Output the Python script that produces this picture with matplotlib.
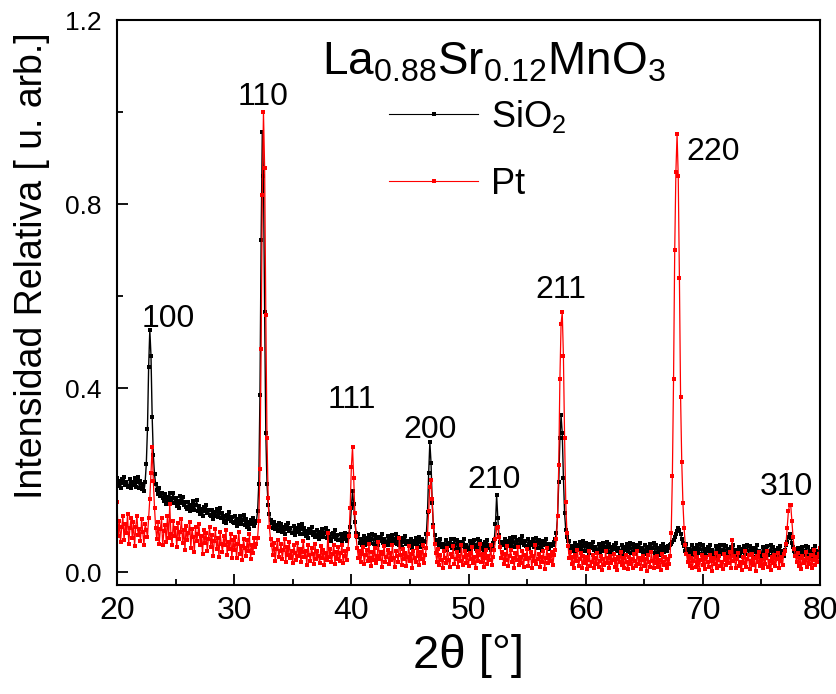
import numpy as np
import matplotlib.pyplot as plt
from matplotlib.ticker import MultipleLocator

plt.rcParams['font.family'] = ['Liberation Sans', 'DejaVu Sans']
plt.rcParams['mathtext.default'] = 'regular'

# 2theta scan, 0.1 deg step from 20 to 80
two_theta = np.round(np.arange(200, 801) * 0.1, 1)

# relative intensity x1000, one list per 10 deg
sio2_20 = [205, 187, 198, 183, 202, 193, 207, 189, 196, 185,
           188, 202, 182, 197, 190, 204, 186, 195, 206, 184,
           198, 180, 191, 176, 196, 235, 312, 447, 526, 470,
           338, 254, 213, 191, 179, 170, 184, 166, 173, 162,
           155, 169, 149, 164, 157, 171, 153, 162, 173, 151,
           162, 144, 155, 140, 166, 150, 164, 146, 153, 142,
           138, 152, 132, 147, 140, 154, 136, 145, 156, 134,
           144, 126, 137, 122, 141, 132, 146, 128, 135, 124,
           121, 135, 115, 130, 123, 137, 119, 128, 139, 117,
           128, 110, 121, 106, 125, 116, 130, 112, 119, 108]
sio2_30 = [107, 121, 101, 116, 109, 123, 105, 114, 125, 103,
           116, 98, 109, 94, 113, 104, 118, 100, 107, 112,
           132, 192, 385, 722, 957, 862, 565, 302, 192, 147,
           126, 114, 107, 96, 108, 94, 103, 90, 106, 92,
           105, 87, 98, 83, 102, 93, 107, 89, 96, 85,
           86, 100, 80, 95, 88, 102, 84, 93, 104, 82,
           97, 79, 90, 75, 94, 85, 99, 81, 88, 77,
           78, 92, 72, 87, 80, 94, 76, 85, 96, 74,
           89, 71, 82, 67, 86, 77, 91, 73, 80, 69,
           70, 84, 64, 79, 72, 86, 68, 77, 84, 98]
sio2_40 = [140, 176, 148, 108, 86, 76, 82, 64, 71, 60,
           65, 79, 59, 74, 67, 81, 63, 72, 83, 61,
           80, 62, 73, 58, 77, 68, 82, 64, 71, 60,
           65, 79, 59, 74, 67, 81, 63, 72, 83, 61,
           77, 59, 70, 55, 74, 65, 79, 61, 68, 57,
           59, 73, 53, 68, 61, 75, 57, 66, 77, 55,
           72, 56, 67, 66, 82, 130, 215, 282, 238, 150,
           102, 80, 69, 63, 67, 58, 72, 54, 61, 50,
           55, 69, 49, 64, 57, 71, 53, 62, 73, 51,
           69, 51, 62, 47, 66, 57, 71, 53, 60, 49]
sio2_50 = [53, 67, 47, 62, 55, 69, 51, 60, 71, 49,
           68, 50, 61, 46, 65, 56, 70, 52, 59, 48,
           56, 63, 70, 105, 167, 118, 80, 66, 60, 66,
           59, 73, 53, 68, 61, 75, 57, 66, 77, 55,
           76, 58, 69, 54, 73, 64, 78, 60, 67, 56,
           57, 71, 51, 66, 59, 73, 55, 64, 75, 53,
           70, 52, 63, 48, 67, 58, 72, 54, 61, 50,
           57, 62, 60, 66, 72, 86, 122, 195, 292, 341,
           302, 205, 128, 92, 76, 68, 68, 50, 57, 46,
           50, 64, 44, 59, 52, 66, 48, 57, 68, 46]
sio2_60 = [64, 46, 57, 42, 61, 52, 66, 48, 55, 44,
           48, 62, 42, 57, 50, 64, 46, 55, 66, 44,
           62, 44, 55, 40, 59, 50, 64, 46, 53, 42,
           46, 60, 40, 55, 48, 62, 44, 53, 64, 42,
           61, 43, 54, 39, 58, 49, 63, 45, 52, 41,
           45, 59, 39, 54, 47, 61, 43, 52, 63, 41,
           60, 42, 53, 38, 57, 48, 62, 44, 55, 46,
           56, 52, 58, 61, 66, 70, 77, 84, 90, 95,
           92, 83, 72, 63, 57, 47, 61, 43, 50, 39,
           44, 58, 38, 53, 46, 60, 42, 51, 62, 40]
sio2_70 = [58, 40, 51, 36, 55, 46, 60, 42, 49, 38,
           42, 56, 36, 51, 44, 58, 40, 49, 60, 38,
           57, 39, 50, 35, 54, 45, 59, 41, 48, 37,
           41, 55, 35, 50, 43, 57, 39, 48, 59, 37,
           56, 38, 49, 34, 53, 44, 58, 40, 47, 36,
           40, 54, 34, 49, 42, 56, 38, 47, 58, 36,
           55, 37, 48, 33, 52, 43, 57, 39, 46, 35,
           49, 58, 66, 76, 82, 74, 64, 55, 47, 44,
           39, 53, 33, 48, 41, 55, 37, 46, 57, 35,
           54, 36, 47, 32, 51, 42, 56, 38, 45, 34,
           43]

pt_20 = [152, 78, 112, 65, 98, 121, 70, 104, 86, 127,
         62, 95, 118, 74, 108, 57, 99, 123, 81, 93,
         68, 115, 88, 59, 104, 92, 77, 118, 160, 215,
         272, 198, 140, 96, 71, 108, 62, 94, 117, 58,
         89, 103, 66, 121, 74, 148, 82, 60, 112, 79,
         95, 54, 107, 71, 88, 116, 63, 92, 48, 101,
         69, 85, 110, 52, 94, 76, 43, 98, 67, 83,
         105, 58, 79, 40, 91, 64, 86, 47, 72, 99,
         55, 81, 36, 68, 93, 50, 74, 33, 87, 61,
         44, 79, 58, 92, 38, 66, 51, 84, 30, 70]
pt_30 = [48, 76, 31, 62, 88, 40, 57, 27, 73, 52,
         36, 69, 45, 82, 29, 60, 41, 74, 55, 62,
         75, 112, 225, 485, 820, 1000, 878, 560, 292, 162,
         98, 72, 58, 37, 64, 25, 51, 70, 33, 46,
         61, 28, 49, 73, 22, 55, 38, 66, 30, 47,
         19, 58, 41, 27, 63, 35, 50, 21, 44, 68,
         32, 47, 16, 59, 38, 25, 53, 40, 18, 62,
         29, 45, 36, 20, 57, 31, 48, 15, 42, 26,
         86, 33, 51, 22, 39, 60, 17, 44, 28, 54,
         24, 41, 58, 19, 36, 47, 26, 50, 78, 140]
pt_40 = [228, 272, 205, 128, 78, 52, 31, 46, 22, 40,
         55, 18, 37, 49, 24, 61, 30, 14, 43, 27,
         52, 20, 35, 65, 28, 44, 12, 39, 57, 23,
         33, 48, 17, 41, 26, 59, 30, 11, 45, 36,
         22, 74, 38, 15, 50, 29, 42, 13, 34, 56,
         25, 40, 10, 47, 31, 21, 53, 36, 16, 44,
         28, 58, 19, 37, 52, 82, 132, 186, 200, 158,
         98, 62, 41, 23, 50, 16, 38, 27, 9, 45,
         31, 19, 52, 26, 12, 40, 33, 56, 18, 29,
         43, 11, 36, 24, 60, 15, 32, 47, 20, 38]
pt_50 = [14, 41, 28, 55, 19, 33, 8, 46, 25, 37,
         62, 21, 39, 12, 30, 49, 17, 35, 26, 58,
         16, 34, 48, 72, 95, 98, 76, 54, 30, 44,
         18, 39, 27, 57, 13, 36, 48, 22, 31, 9,
         42, 26, 55, 15, 33, 20, 46, 11, 38, 28,
         50, 14, 31, 43, 8, 36, 24, 58, 17, 29,
         40, 12, 34, 21, 47, 7, 30, 52, 19, 37,
         25, 44, 15, 38, 48, 72, 122, 232, 420, 540,
         565, 470, 292, 152, 86, 56, 30, 44, 17, 33,
         10, 38, 24, 49, 13, 29, 41, 8, 35, 20]
pt_60 = [33, 6, 27, 45, 14, 22, 38, 9, 30, 18,
         42, 11, 25, 35, 5, 28, 16, 47, 20, 31,
         8, 36, 19, 26, 40, 12, 29, 4, 33, 22,
         44, 15, 30, 9, 37, 21, 6, 34, 17, 28,
         10, 39, 24, 13, 46, 18, 31, 7, 26, 35,
         14, 29, 3, 38, 21, 12, 43, 25, 8, 32,
         19, 36, 11, 27, 5, 40, 23, 15, 34, 9,
         28, 18, 35, 85, 210, 420, 700, 870, 952, 860,
         640, 380, 240, 150, 95, 60, 40, 22, 36, 14,
         30, 8, 25, 41, 12, 33, 19, 4, 27, 37]
pt_70 = [16, 29, 7, 34, 21, 11, 38, 24, 3, 31,
         18, 42, 9, 26, 35, 13, 22, 6, 39, 27,
         15, 32, 20, 44, 10, 70, 25, 36, 8, 29,
         41, 14, 23, 5, 33, 19, 46, 12, 28, 37,
         7, 24, 39, 16, 30, 2, 35, 21, 43, 13,
         26, 9, 38, 18, 31, 45, 11, 24, 4, 34,
         20, 37, 13, 28, 42, 8, 25, 33, 16, 40,
         45, 62, 96, 132, 146, 146, 112, 76, 50, 36,
         22, 41, 14, 30, 6, 35, 19, 27, 44, 11,
         31, 17, 38, 9, 26, 48, 15, 33, 22, 40,
         52]

sio2 = np.array(sio2_20 + sio2_30 + sio2_40 + sio2_50 + sio2_60 + sio2_70) / 1000
pt = np.array(pt_20 + pt_30 + pt_40 + pt_50 + pt_60 + pt_70) / 1000
assert len(sio2) == len(two_theta) == len(pt)

# Miller indices of the perovskite reflections
hkl = ["100", "110", "111", "200", "210", "211", "220", "310"]

fig = plt.figure(figsize=(8.37, 6.94), dpi=100)
ax = fig.add_axes([0.1398, 0.157, 0.8399, 0.8141])

ax.plot(two_theta, sio2, color="black", lw=1.0, marker="s", ms=3.4, mew=0, label=r"SiO$_2$")
ax.plot(two_theta, pt, color="red", lw=0.9, marker="s", ms=3.4, mew=0, label="Pt")

# label positions (data coords) next to each peak
hkl_pos = [(24.35, 0.533), (32.46, 1.015), (40.06, 0.357), (46.71, 0.291),
           (52.18, 0.183), (57.89, 0.596), (70.87, 0.896), (77.10, 0.167)]
for lab, (px, py) in zip(hkl, hkl_pos):
    ax.text(px, py, lab, fontsize=23, ha="center", va="baseline")

ax.text(0.536, 0.903, r"La$_{0.88}$Sr$_{0.12}$MnO$_3$", transform=ax.transAxes,
        fontsize=33, ha="center", va="baseline")

leg = ax.legend(loc="upper left", bbox_to_anchor=(0.387, 0.862), frameon=False, fontsize=26,
                handlelength=2.47, handletextpad=0.36, labelspacing=0.88, borderpad=0,
                borderaxespad=0)
for h in leg.get_lines():
    h.set_linewidth(0.8)
    h.set_markersize(2.6)

ax.set_xlim(20, 80)
ax.set_ylim(-0.028, 1.2)
ax.xaxis.set_major_locator(MultipleLocator(10))
ax.xaxis.set_minor_locator(MultipleLocator(5))
ax.yaxis.set_major_locator(MultipleLocator(0.4))
ax.yaxis.set_minor_locator(MultipleLocator(0.2))
ax.yaxis.set_major_formatter(plt.FormatStrFormatter("%.1f"))
ax.tick_params(which="both", direction="in", width=1.3)
ax.tick_params(which="major", length=8)
ax.tick_params(which="minor", length=4.5)
ax.tick_params(axis="y", labelsize=19, pad=11)
ax.tick_params(axis="x", labelsize=23, pad=8)
for s in ax.spines.values():
    s.set_linewidth(1.5)

ax.set_xlabel("2θ [°]", fontsize=34, labelpad=6)
ax.set_ylabel("Intensidad Relativa [ u. arb.]", fontsize=27)
ax.yaxis.set_label_coords(-0.095, 0.565)

fig.savefig("out.png", dpi=100)
